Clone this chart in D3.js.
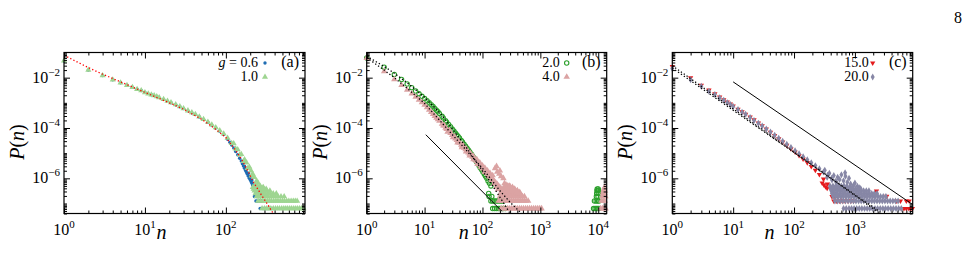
<!DOCTYPE html>
<html>
<head>
<meta charset="utf-8">
<script src="https://cdn.jsdelivr.net/npm/d3@7"></script>
<style>
  body { margin: 0; background: #fff; }
</style>
</head>
<body>
<div id="chart"></div>
<script>
// ---------- data ----------
// tick labels
const aXTicks = [1, 10, 100];
const bXTicks = [1, 10, 100, 1000, 10000];
const cXTicks = [1, 10, 100, 1000];
const yTicks = [1e-2, 1e-4, 1e-6];

// legend labels
const aLabels = ['0.6', '1.0'];
const bLabels = ['2.0', '4.0'];
const cLabels = ['15.0', '20.0'];

// (a) g = 0.6
const aG06 = [[1,4.6e-2],[2,2.0e-2],[3,1.22e-2],[4,8.3e-3],[5,6.3e-3],[6,5.0e-3],[7,4.2e-3],[8,3.5e-3],[9,3.1e-3],[10,2.6e-3],
  [12,2.1e-3],[14,1.77e-3],[17,1.37e-3],[21,1.01e-3],[24,8.4e-4],[27,7.0e-4],[30,5.9e-4],[34,4.8e-4],[38,4.0e-4],[42,3.4e-4],
  [47,2.75e-4],[53,2.2e-4],[60,1.7e-4],[67,1.3e-4],[75,1.0e-4],[84,7.5e-5],[94,5.5e-5],[105,3.55e-5],[112,2.7e-5],[118,2.1e-5],
  [125,1.6e-5],[132,1.17e-5],[140,8.6e-6],[148,6.3e-6],[155,4.9e-6],[160,3.8e-6],[165,3.1e-6],[170,2.5e-6],[175,2.05e-6],[180,1.7e-6],
  [185,1.45e-6],[190,1.2e-6],[195,1.0e-6],[200,8.7e-7],[205,7.4e-7],[210,6.3e-7],[215,5.3e-7],[220,4.5e-7],[225,3.8e-7],[230,3.2e-7],
  [235,2.8e-7],[240,2.4e-7],[170,3.0e-6],[190,1.6e-6],[200,1.15e-6],[210,8.5e-7]];
const aG06Rows = [[1.26e-7,[235,245,255,265,275,285]],[1.9e-7,[225,238,250,262]],[6.3e-8,[265,280,295,310,325,340,355,370]]];

// (a) g = 1.0
const aG10 = [[1,4.7e-2],[2,2.0e-2],[3,1.23e-2],[4,8.3e-3],[5,6.3e-3],[6,5.0e-3],[7,4.2e-3],[8,3.5e-3],[9,3.1e-3],[10,2.6e-3],
  [11,2.3e-3],[12,2.1e-3],[13,1.95e-3],[14,1.78e-3],[15,1.62e-3],[17,1.38e-3],[19,1.17e-3],[21,1.02e-3],[24,8.5e-4],[27,7.1e-4],
  [30,6.0e-4],[34,4.9e-4],[38,4.1e-4],[42,3.5e-4],[47,2.8e-4],[53,2.24e-4],[60,1.74e-4],[67,1.35e-4],[75,1.05e-4],[84,7.9e-5],
  [94,5.9e-5],[105,4.0e-5],[118,2.5e-5],[132,1.51e-5],[148,8.7e-6],[166,4.8e-6],[186,2.5e-6],[208,1.26e-6],[233,6.0e-7],[261,2.8e-7]];
const aG10Scatter = [[125,2.4e-5],[140,1.4e-5],[155,9.0e-6],[170,5.6e-6],[180,4.2e-6],[195,2.8e-6],[205,2.0e-6],[215,1.5e-6],
  [225,1.1e-6],[240,8.0e-7],[250,6.5e-7],[265,5.0e-7],[280,4.2e-7],[300,3.6e-7]];
const aG10Rows = [
  [6.3e-8,[280,300,320,340,360,385,410,435,460,490,520,550,580,615,650,690,730,770,815,860,910]],
  [1.26e-7,[250,268,286,305,325,345,365,390,415,440,470,500,530,565,600,640,680,720,760]],
  [1.9e-7,[240,258,276,295,315,335,360,385,410,440,480,525]],
  [2.5e-7,[232,250,268,287,307,330,355,385,420]],
  [3.2e-7,[226,243,261,280,300,322,350]],
  [3.8e-7,[220,237,255,273,293,315]],
  [4.4e-7,[215,232,250,268,290]]];
const aFit = [[1,7.8e-2],[2,2.5e-2],[3,1.38e-2],[5,6.8e-3],[10,2.6e-3],[20,1.0e-3],[30,5.6e-4],[50,2.24e-4],[70,1.05e-4],
  [100,4.2e-5],[130,1.41e-5],[160,5.0e-6],[190,1.78e-6],[215,7.9e-7],[245,4.0e-7],[272,2.3e-7],[300,1.41e-7],[330,8.9e-8],
  [360,5.6e-8],[385,4.0e-8]];

// (b) 2.0
const bG20 = [[1,6.0e-2],[2,2.6e-2],[3,1.35e-2],[4,8.5e-3],[5,5.6e-3],[6,4.0e-3],[7,2.95e-3],[8,2.3e-3],[9,1.82e-3],[10,1.48e-3],
  [11,1.22e-3],[12,1.0e-3],[13,8.4e-4],[14,7.1e-4],[15,6.0e-4],[16,5.1e-4],[17,4.4e-4],[18,3.8e-4],[20,2.9e-4],[21,2.5e-4],
  [23,1.95e-4],[24,1.7e-4],[26,1.38e-4],[28,1.12e-4],[30,9.1e-5],[32,7.6e-5],[34,6.3e-5],[36,5.4e-5],[38,4.6e-5],[40,4.0e-5],
  [43,3.2e-5],[45,2.8e-5],[48,2.24e-5],[51,1.9e-5],[54,1.58e-5],[57,1.35e-5],[60,1.15e-5],[64,9.3e-6],[67,7.9e-6],[71,6.6e-6],
  [75,5.5e-6],[79,4.6e-6],[83,3.8e-6],[88,3.1e-6],[92,2.6e-6],[97,2.2e-6],[102,1.78e-6],[108,1.45e-6],[113,1.2e-6],[119,1.0e-6],
  [125,7.9e-7],[132,6.3e-7],[140,5.0e-7]];
const bG20Rows = [
  [6.3e-8,[150,162,175,188,200,215,230,248,8300,8800,9300,9800,10300]],
  [1.26e-7,[140,150,160,172,185,200,215,230,8600,9200,9800,10300]],
  [1.9e-7,[130,145,9300,9900]],
  [2.5e-7,[128,9400,10000]],
  [3.2e-7,[9500,10100]],
  [3.8e-7,[9600,10000]]];

// (b) 4.0
const bG40 = [[1,6.0e-2],[2,1.78e-2],[3,8.5e-3],[4,5.0e-3],[5,3.3e-3],[6,2.34e-3],[7,1.74e-3],[8,1.32e-3],[9,1.05e-3],[10,8.3e-4],
  [11,6.6e-4],[12,5.2e-4],[13,4.3e-4],[14,3.55e-4],[15,2.95e-4],[16,2.5e-4],[17,2.2e-4],[18,1.9e-4],[20,1.45e-4],[21,1.25e-4],
  [23,1.02e-4],[24,9.0e-5],[26,7.6e-5],[28,6.3e-5],[30,5.2e-5],[32,4.5e-5],[34,3.8e-5],[36,3.3e-5],[38,2.9e-5],[40,2.55e-5],
  [43,2.14e-5],[45,1.9e-5],[48,1.62e-5],[51,1.4e-5],[54,1.2e-5],[57,1.06e-5],[60,9.3e-6],[64,8.1e-6],[67,7.1e-6],[71,6.2e-6],
  [75,5.4e-6],[79,4.8e-6],[83,4.2e-6],[88,3.6e-6],[92,3.2e-6],[97,2.8e-6],[102,2.45e-6],[108,2.15e-6],[113,1.9e-6],[119,1.65e-6],
  [125,1.48e-6],[132,1.28e-6],[140,1.1e-6],[148,9.6e-7],[155,8.5e-7],[162,7.5e-7],[170,6.6e-7],[180,5.8e-7],[190,5.0e-7],
  [200,4.4e-7],[210,3.8e-7]];
const bG40Scatter = [[22,1.25e-4],[27,8.2e-5],[33,4.5e-5],[39,3.0e-5],[46,2.1e-5],[53,1.45e-5],[62,1.0e-5],[70,7.5e-6],[80,5.6e-6],
  [90,4.2e-6],[100,3.2e-6],[110,2.6e-6],[122,2.0e-6],[135,1.6e-6],[150,1.3e-6],[165,2.5e-6],[175,3.0e-6],[180,1.8e-6],[195,1.5e-6],
  [200,2.0e-6],[210,1.2e-6],[230,1.0e-6],[240,6.3e-7],[255,5.6e-7],[275,5.0e-7],[300,4.5e-7],[330,4.0e-7],[360,3.5e-7],[400,3.2e-7],
  [440,2.8e-7],[25,7.0e-5],[31,4.2e-5],[37,2.6e-5],[44,1.7e-5],[52,1.15e-5],[60,8.0e-6],[70,5.6e-6],[82,3.7e-6],[95,2.7e-6],
  [110,1.75e-6],[128,1.2e-6],[145,8.5e-7],[160,6.2e-7],[175,4.6e-7],[185,3.6e-7]];
const bG40Rows = [
  [6.3e-8,[210,230,250,270,290,315,340,370,400,435,470,510,555,600,650,705,765,830,900,975,1050,11000,11800,12600,13400]],
  [1.26e-7,[190,205,220,238,256,275,295,318,342,368,396,426,458,492,530,570,615,11400,12200,13000]],
  [1.9e-7,[200,215,232,250,270,290,312,336,362,390,420,455,490,530,11800,12600,13300]],
  [2.5e-7,[205,222,240,260,280,302,326,352,380,410,445,12000,12900]],
  [3.2e-7,[215,232,250,270,292,316,342,370,400,12300,13100]],
  [3.8e-7,[225,245,265,287,310,335,360,12600]],
  [4.4e-7,[240,260,282,305,330,12800]],
  [5.0e-7,[250,272,295]]];
const bFit20 = [[1,7.1e-2],[2,2.8e-2],[3,1.5e-2],[5,6.3e-3],[10,1.66e-3],[20,3.2e-4],[50,2.0e-5],[100,2.0e-6],[150,5.0e-7],
  [200,1.78e-7],[250,7.9e-8],[300,4.0e-8]];
const bFit40 = [[1,6.3e-2],[2,2.0e-2],[3,1.0e-2],[5,3.8e-3],[10,9.5e-4],[20,1.58e-4],[50,1.48e-5],[100,2.5e-6],[200,3.2e-7],
  [300,1.12e-7],[450,4.5e-8],[480,4.0e-8]];
const bRef = [[10.5,5.4e-5],[217,4.9e-8]];

// (c) 15.0
const cG150 = [[1,2.8e-2],[2,1.0e-2],[3,5.0e-3],[4,3.2e-3],[5,2.3e-3],[6,1.7e-3],[7,1.32e-3],[8,1.07e-3],[9,8.9e-4],[10,7.4e-4],
  [12,5.6e-4],[14,4.4e-4],[16,3.55e-4],[19,2.7e-4],[22,2.1e-4],[26,1.58e-4],[30,1.23e-4],[35,9.1e-5],[41,6.8e-5],[48,5.0e-5],
  [56,3.7e-5],[65,2.75e-5],[76,2.04e-5],[89,1.51e-5],[104,1.12e-5],[121,8.1e-6],[141,5.9e-6],[165,4.2e-6],[192,2.95e-6],
  [224,2.1e-6],[261,1.41e-6],[305,9.3e-7],[355,6.0e-7],[415,3.8e-7],[470,2.5e-7]];
const cG150Scatter = [[290,6.5e-7],[310,5.5e-7],[330,4.6e-7],[350,4.0e-7],[2260,3.1e-7],[3330,1.95e-7]];
const cG150Rows = [
  [1.26e-7,[450,500,560,620,690,770,860,950,4800,5600,7000,7800]],
  [1.9e-7,[420,470,530,590]],
  [6.3e-8,[5800,6400,7000,7700,8300,8800]]];

// (c) 20.0
const cG200 = [[1,2.3e-2],[2,8.3e-3],[3,4.6e-3],[4,2.9e-3],[5,2.14e-3],[6,1.58e-3],[7,1.26e-3],[8,1.02e-3],[9,8.5e-4],[10,7.1e-4],
  [12,5.4e-4],[14,4.2e-4],[16,3.5e-4],[19,2.6e-4],[22,2.0e-4],[26,1.55e-4],[30,1.2e-4],[35,9.1e-5],[41,6.9e-5],[48,5.1e-5],
  [56,3.9e-5],[65,2.95e-5],[76,2.24e-5],[89,1.7e-5],[104,1.26e-5],[121,9.5e-6],[141,7.2e-6],[165,5.5e-6],[192,4.2e-6],
  [224,3.2e-6],[261,2.4e-6],[305,1.78e-6],[355,1.32e-6],[415,1.0e-6],[485,7.6e-7]];
const cG200Scatter = [[320,2.1e-6],[380,1.6e-6],[450,1.3e-6],[520,1.1e-6],[350,1.1e-6],[420,8.5e-7],[500,6.5e-7],[560,9.0e-7],
  [600,1.4e-6],[650,8.0e-7],[690,1.66e-6],[700,1.2e-6],[750,7.0e-7],[800,1.0e-6],[850,6.0e-7],[950,5.2e-7],[1000,6.5e-7],
  [1100,4.8e-7],[1200,4.2e-7]];
const cG200Rows = [
  [6.3e-8,[650,720,800,880,970,1070,1180,1300,1440,1590,1750,1940,2140,2360,2610,2880,3180,3510,3880,4290,4740,5230,5780]],
  [1.26e-7,[470,520,575,635,700,775,855,945,1040,1150,1270,1400,1550,1710,1890,2090,2310,2550,2820,3110,3440,3800,4200,4640,5120]],
  [1.9e-7,[440,485,535,590,650,720,795,880,970,1070,1180,1310,1450,1600,1770,1960,2160,2390,2640,2920,3230]],
  [2.5e-7,[420,465,515,570,630,695,770,850,940,1040,1150,1270,1400,1550,1710,1890,2090,2310]],
  [3.2e-7,[410,455,505,560,620,685,760,840,930,1030,1140,1260,1390,1540,1700]],
  [3.8e-7,[400,445,495,550,610,675,750,830,920,1020,1130,1250]],
  [4.4e-7,[395,440,490,545,605,670,745,825,910]],
  [5.0e-7,[390,435,485,540,600,665,740]]];
const cFit150 = [[1,3.0e-2],[2600,4.0e-8]];
const cFit200 = [[1,2.4e-2],[2800,4.0e-8]];
const cRef = [[10,6.8e-3],[9000,8.9e-8]];

// ---------- drawing ----------
const width = 974, height = 270;
const plotTop = 52.5, plotBottom = 213.5;
const serif = "'Liberation Serif', 'Times New Roman', 'DejaVu Serif', serif";

const svg = d3.select('#chart').append('svg').attr('width', width).attr('height', height)
  .style('font-family', serif);

const styles = {
  g06: { type: d3.symbolCircle, size: 9, color: '#1f6db3', fill: true },
  g10: { type: d3.symbolTriangle, size: 16, color: '#9ed591', fill: true },
  g20: { type: d3.symbolCircle, size: 15, color: '#2ca02c', fill: false, strokeWidth: 1.1 },
  g40: { type: d3.symbolTriangle, size: 18, color: '#dba3a3', fill: true },
  g150: { type: d3.symbolTriangle, size: 12, color: '#e41a1c', fill: true, rotate: true },
  g200: { type: d3.symbolDiamond, size: 14, color: '#8787a6', fill: true }
};

function rowsToPoints(rows) {
  const out = [];
  rows.forEach(r => r[1].forEach(n => out.push([n, r[0]])));
  return out;
}

function drawMarkers(parent, x, y, pts, st) {
  parent.append('g').selectAll('path').data(pts).join('path')
    .attr('transform', d => 'translate(' + x(d[0]) + ',' + y(d[1]) + ')' + (st.rotate ? ' rotate(180)' : ''))
    .attr('d', d3.symbol().type(st.type).size(st.size))
    .style('fill', st.fill ? st.color : 'none')
    .style('stroke', st.fill ? 'none' : st.color)
    .style('stroke-width', st.strokeWidth || 0);
}

function drawLine(parent, x, y, pts, color, dotted) {
  parent.append('path').datum(pts)
    .attr('d', d3.line().x(d => x(d[0])).y(d => y(d[1])))
    .style('fill', 'none').style('stroke', color)
    .style('stroke-width', dotted ? 1.3 : 1)
    .style('stroke-dasharray', dotted ? '1.3,2.2' : null);
}

function addText(parent, x, y, size, anchor) {
  return parent.append('text').attr('x', x).attr('y', y)
    .attr('text-anchor', anchor || 'start')
    .style('font-family', serif).style('font-size', size + 'px').style('fill', '#000');
}

function powLabel(sel, v) {
  const e = Math.round(Math.log10(v));
  sel.append('tspan').text('10');
  sel.append('tspan').attr('dy', -7).style('font-size', '11px').text(e < 0 ? '\u2212' + (-e) : String(e));
}

function isDecade(v) {
  const l = Math.log10(v);
  return Math.abs(l - Math.round(l)) < 1e-6;
}

function drawPanel(p) {
  const x = d3.scaleLog().domain([1, p.xMax]).range([p.left, p.right]);
  const y = d3.scaleLog().domain([4e-8, 0.1]).range([plotBottom, plotTop]);
  const g = svg.append('g');

  const clipId = 'clip-' + p.name;
  g.append('clipPath').attr('id', clipId).append('rect')
    .attr('x', p.left).attr('y', plotTop).attr('width', p.right - p.left).attr('height', plotBottom - plotTop);

  // series
  p.series.forEach(s => drawMarkers(g, x, y, s.points, s.style));
  const lines = g.append('g').attr('clip-path', 'url(#' + clipId + ')');
  p.lines.forEach(l => drawLine(lines, x, y, l.points, l.color, l.dotted));

  // ticks (inward, on all four sides)
  const xt = x.ticks(), yt = y.ticks();
  const xMaj = xt.filter(isDecade), xMin = xt.filter(v => !isDecade(v));
  const yMaj = yTicks, yMin = yt.filter(v => !yTicks.some(t => Math.abs(t / v - 1) < 1e-6));
  const axes = [
    [d3.axisBottom(x), xMaj, xMin, 'translate(0,' + plotBottom + ')'],
    [d3.axisTop(x), xMaj, xMin, 'translate(0,' + plotTop + ')'],
    [d3.axisLeft(y), yMaj, yMin, 'translate(' + p.left + ',0)'],
    [d3.axisRight(y), yMaj, yMin, 'translate(' + p.right + ',0)']
  ];
  axes.forEach(a => {
    const big = g.append('g').attr('transform', a[3]).call(a[0].tickValues(a[1]).tickSize(-6).tickFormat(''));
    big.select('.domain').remove();
    const small = g.append('g').attr('transform', a[3]).call(a[0].tickValues(a[2]).tickSize(-3).tickFormat(''));
    small.select('.domain').remove();
  });
  g.selectAll('.tick line').style('stroke', '#000');

  // frame
  g.append('rect').attr('x', p.left).attr('y', plotTop)
    .attr('width', p.right - p.left).attr('height', plotBottom - plotTop)
    .style('fill', 'none').style('stroke', '#000').style('stroke-width', 1.2);

  // tick labels
  p.xTicks.forEach(v => powLabel(addText(g, x(v), 235, 16, 'middle'), v));
  yTicks.forEach(v => powLabel(addText(g, p.left - 4, y(v) + 5, 16, 'end'), v));

  // axis titles
  const yl = g.append('text').attr('transform', 'translate(' + (p.left - 40) + ',142) rotate(-90)')
    .attr('text-anchor', 'middle').style('font-family', serif).style('font-size', '20px');
  yl.append('tspan').style('font-style', 'italic').text('P');
  yl.append('tspan').text('(');
  yl.append('tspan').style('font-style', 'italic').text('n');
  yl.append('tspan').text(')');
  addText(g, (p.left + p.right) / 2 - 23, 239, 20, 'middle').style('font-style', 'italic').text('n');

  // legend
  p.legend.forEach((e, i) => {
    const base = 67 + i * 14;
    const t = addText(g, p.right - p.textGap, base, 14, 'end');
    if (e.prefix) {
      t.append('tspan').style('font-style', 'italic').text(e.prefix);
      t.append('tspan').text(' = ');
    }
    t.append('tspan').text(e.label);
    drawMarkers(g, d => p.right - 40, d => base - 4, [[0, 0]], e.style);
  });
  addText(g, p.right - 6, 67, 16, 'end').text('(' + p.name + ')');
}

const panels = [
  {
    name: 'a', left: 64, right: 305, xMax: 950, xTicks: aXTicks, textGap: 47,
    series: [
      { points: aG06.concat(rowsToPoints(aG06Rows)), style: styles.g06 },
      { points: aG10.concat(aG10Scatter, rowsToPoints(aG10Rows)), style: styles.g10 }
    ],
    lines: [{ points: aFit, color: '#ff0000', dotted: true }],
    legend: [{ prefix: 'g', label: aLabels[0], style: styles.g06 }, { label: aLabels[1], style: styles.g10 }]
  },
  {
    name: 'b', left: 366.7, right: 606.7, xMax: 14000, xTicks: bXTicks, textGap: 47,
    series: [
      { points: bG20.concat(rowsToPoints(bG20Rows)), style: styles.g20 },
      { points: bG40.concat(bG40Scatter, rowsToPoints(bG40Rows)), style: styles.g40 }
    ],
    lines: [
      { points: bFit20, color: '#000', dotted: true },
      { points: bFit40, color: '#000', dotted: true },
      { points: bRef, color: '#000', dotted: false }
    ],
    legend: [{ label: bLabels[0], style: styles.g20 }, { label: bLabels[1], style: styles.g40 }]
  },
  {
    name: 'c', left: 672.3, right: 912.7, xMax: 8900, xTicks: cXTicks, textGap: 44,
    series: [
      { points: cG150.concat(cG150Scatter, rowsToPoints(cG150Rows)), style: styles.g150 },
      { points: cG200.concat(cG200Scatter, rowsToPoints(cG200Rows)), style: styles.g200 }
    ],
    lines: [
      { points: cFit150, color: '#000', dotted: true },
      { points: cFit200, color: '#000', dotted: true },
      { points: cRef, color: '#000', dotted: false }
    ],
    legend: [{ label: cLabels[0], style: styles.g150 }, { label: cLabels[1], style: styles.g200 }]
  }
];

panels.forEach(drawPanel);

// page number
addText(svg, 958, 23, 16, 'middle').text('8');
</script>
</body>
</html>
